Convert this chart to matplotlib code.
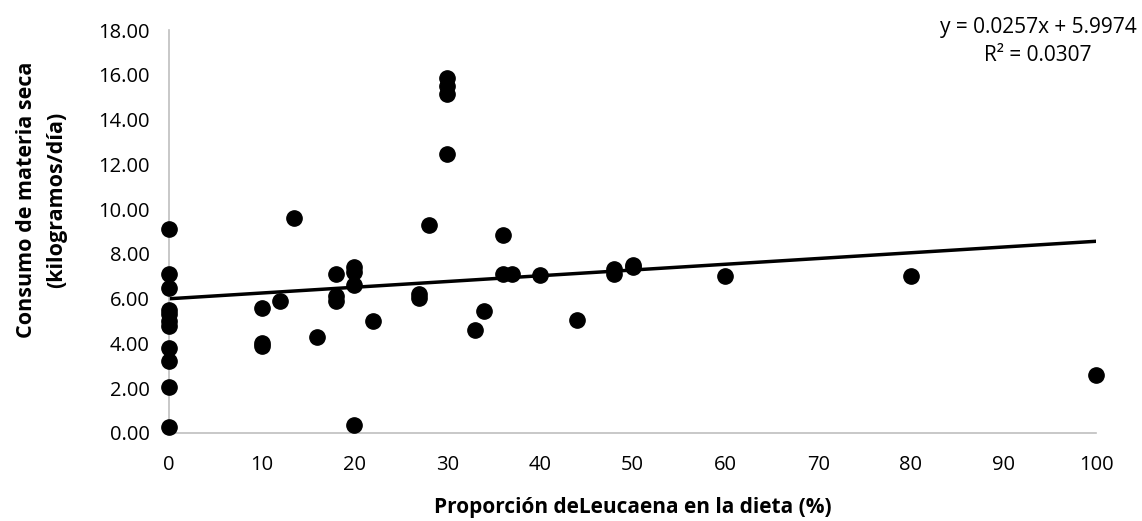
"""
Consumo de materia seca vs proporción de Leucaena
"""
import matplotlib
matplotlib.use('Agg')
import matplotlib.pyplot as plt
import numpy as np

plt.rcParams['font.family'] = ['Open Sans', 'DejaVu Sans']

# datos
leucaena = [0, 0, 0, 0, 0, 0, 0, 0, 0, 0, 0,
            10, 10, 10, 12, 13.5, 16, 18, 18, 18,
            20, 20, 20, 20, 22, 27, 27, 28,
            30, 30, 30, 30, 33, 34, 36, 36, 37, 40, 44,
            48, 48, 50, 50, 60, 80, 100]
consumo = [9.1, 7.1, 6.5, 5.5, 5.3, 5.0, 4.8, 3.8, 3.2, 2.05, 0.25,
           5.6, 4.0, 3.9, 5.9, 9.6, 4.3, 7.1, 6.1, 5.9,
           7.4, 7.2, 6.6, 0.35, 5.0, 6.2, 6.05, 9.3,
           15.85, 15.5, 15.15, 12.45, 4.6, 5.45, 8.85, 7.1, 7.1, 7.05, 5.05,
           7.35, 7.1, 7.5, 7.4, 7.0, 7.0, 2.6]

pendiente = 0.0257
intercepto = 5.9974
r2 = 0.0307

y_ticks = np.arange(0, 18.01, 2)
x_ticks = np.arange(0, 101, 10)

fig = plt.figure(figsize=(11.42, 5.21), dpi=100)
ax = fig.add_axes([0.148, 0.169, 0.812, 0.773])

ax.plot(leucaena, consumo, 'o', color='black', markersize=11, clip_on=False, zorder=3)

x_lin = np.array([0, 100])
ax.plot(x_lin, pendiente * x_lin + intercepto, color='black', linewidth=2.5, zorder=2)

ax.set_xlim(0, 100)
ax.set_ylim(0, 18)
ax.set_xticks(x_ticks)
ax.set_yticks(y_ticks)
ax.set_yticklabels([f'{v:.2f}' for v in y_ticks])
ax.tick_params(length=0, labelsize=14.5, colors='black')
ax.tick_params(axis='y', pad=14)
ax.tick_params(axis='x', pad=16)

for s in ['top', 'right']:
    ax.spines[s].set_visible(False)
for s in ['left', 'bottom']:
    ax.spines[s].set_color('#bfbfbf')
    ax.spines[s].set_linewidth(1.2)

ax.set_xlabel('Proporción deLeucaena en la dieta (%)', fontsize=15, weight='bold', labelpad=16)
ax.set_ylabel('Consumo de materia seca\n(kilogramos/día)', fontsize=15.5, weight='bold',
              linespacing=1.55, va='center')
ax.yaxis.set_label_coords(-0.1375, 0.578)

fig.text(0.909, 0.921, f'y = {pendiente}x + {intercepto}\nR² = {r2}',
         ha='center', va='center', fontsize=15, linespacing=1.45)

plt.savefig('out.png', dpi=100)
